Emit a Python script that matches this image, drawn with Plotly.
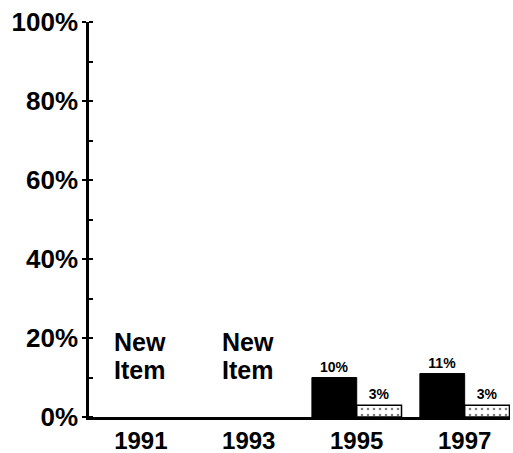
import plotly.graph_objects as go

years = ["1991", "1993", "1995", "1997"]
series_a = [None, None, 10, 11]
series_b = [None, None, 3, 3]
new_item_years = ["1991", "1993"]
new_item_lines = ["New", "Item"]
y_ticks = [0, 20, 40, 60, 80, 100]
y_tick_labels = ["0%", "20%", "40%", "60%", "80%", "100%"]

FONT = "Liberation Sans, Arial, Helvetica, sans-serif"

fig = go.Figure()
fig.add_trace(go.Bar(
    x=years, y=series_a,
    marker=dict(color="black", line=dict(color="black", width=1)),
    texttemplate="%{y}%", textposition="outside",
    textfont=dict(family=FONT, size=14, color="black", weight="bold"),
    cliponaxis=False,
))
fig.add_trace(go.Bar(
    x=years, y=series_b,
    marker=dict(color="white", line=dict(color="black", width=1.5),
                pattern=dict(shape=".", fgcolor="black", bgcolor="white", size=6, solidity=0.15)),
    texttemplate="%{y}%", textposition="outside",
    textfont=dict(family=FONT, size=14, color="black", weight="bold"),
    cliponaxis=False,
))

line_y = [19.0, 11.9]
for yr in new_item_years:
    for txt, yy in zip(new_item_lines, line_y):
        fig.add_annotation(x=years.index(yr), y=yy, xref="x", yref="y", text=txt,
                           showarrow=False, xanchor="left", yanchor="middle", xshift=-29,
                           align="left",
                           font=dict(family=FONT, size=25, color="black", weight="bold"))

fig.update_layout(
    width=513, height=453,
    margin=dict(l=89, r=3, t=22, b=36, autoexpand=False),
    plot_bgcolor="white", paper_bgcolor="white",
    showlegend=False,
    barmode="group", bargap=0.17, bargroupgap=0,
    font=dict(family=FONT, color="black"),
)
fig.update_xaxes(
    type="category", range=[-0.48, 3.42], automargin=False,
    showline=True, linecolor="black", linewidth=2.5,
    ticks="", showgrid=False,
    tickfont=dict(family=FONT, size=24, color="black", weight="bold"),
)
fig.update_yaxes(
    range=[0, 100], tickvals=y_ticks, ticktext=y_tick_labels, automargin=False,
    showline=True, linecolor="black", linewidth=2.5,
    ticks="outside", ticklen=4, tickwidth=1.5, tickcolor="black",
    ticklabelstandoff=-1,
    minor=dict(ticks="inside", dtick=10, ticklen=4, tickwidth=1.5, tickcolor="black"),
    showgrid=False, zeroline=False,
    tickfont=dict(family=FONT, size=26, color="black", weight="bold"),
)

fig.write_html("out.html", post_script="document.body.style.margin='0';",
               config={"displayModeBar": False})
